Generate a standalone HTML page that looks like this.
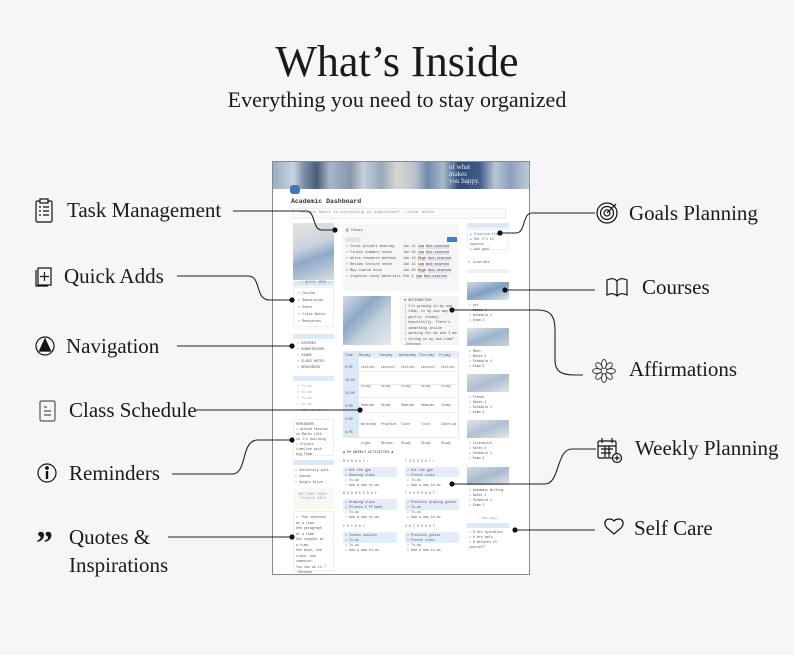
<!DOCTYPE html>
<html><head><meta charset="utf-8"><style>
*{margin:0;padding:0;box-sizing:border-box}
body{width:794px;height:655px;background:#f5f6f8;position:relative;overflow:hidden;font-family:"Liberation Serif",serif;color:#1a1a1a}
.a{position:absolute}
.lbl{position:absolute;font-size:21px;line-height:24px;white-space:nowrap}
.m{font-family:"Liberation Mono",monospace;font-size:4px;color:#555;position:absolute;white-space:nowrap}
.hb{position:absolute;background:#dceaf7}
.bx{position:absolute;border:1px solid #eee;background:#fff}
.row{position:absolute;height:4px;background:#e3eef8}
.tc span{display:inline-block;width:20px;overflow:hidden}
</style></head><body>
<div class="a" style="left:0;width:794px;top:35px;text-align:center;font-size:44px;line-height:54px">What’s Inside</div>
<div class="a" style="left:0;width:794px;top:87px;text-align:center;font-size:22px;line-height:26px">Everything you need to stay organized</div>

<div class="a" style="left:272px;top:161px;width:258px;height:414px;border:1.5px solid #8a8a8a;background:#fff;overflow:hidden">
  <div class="a" style="left:0;top:0;width:258px;height:27px;background:linear-gradient(90deg,#9aaec4 0,#c9d3de 8%,#7d8da3 12%,#4a5e7c 17%,#a9b6c6 22%,#8797ad 30%,#c7cfd8 35%,#98a9bd 42%,#d8d7cf 48%,#b8c3cf 55%,#6f89ae 60%,#aab7c6 66%,#2f4c7a 72%,#3e5a88 80%,#b9c6d6 86%,#8aa0bd 92%,#c6ced8 100%)"></div>
  <div class="a" style="left:176px;top:2px;width:44px;height:22px;color:#e7ecf3;font-size:7px;line-height:7px;font-family:'Liberation Serif',serif">of what<br>makes<br>you happy.</div>
  <div class="a" style="left:17px;top:23px;width:10px;height:9px;background:#3d79b8;border-radius:3px"></div>
  <div class="m" style="left:18px;top:36px;font-size:6.5px;font-weight:bold;color:#333">Academic Dashboard</div>
  <div class="a" style="left:19px;top:46px;width:214px;height:11px;border:1px solid #eee;background:#fafafa"></div>
  <div class="m" style="left:24px;top:49px;color:#7a9cc4">"Thought heart is everything it experience" - Oscar Wilde</div>
  <div class="a" style="left:20px;top:61px;width:41px;height:57px;background:linear-gradient(160deg,#e9e5df 0,#c8d3de 40%,#8fa9c8 60%,#d9dde2 100%)"></div>
  <div class="hb" style="left:20px;top:119px;width:41px;height:5px"></div><div class="m" style="left:28px;top:119px;font-size:3.5px;color:#4a6fa0">• QUICK ADDS •</div>
  <div class="bx" style="left:20px;top:125px;width:41px;height:40px"></div>
  <div class="m" style="left:25px;top:129px;line-height:7px;font-size:3.5px;color:#555">▪ Course<br>▪ Submission<br>▪ Event<br>▪ Class Notes<br>▪ Resources</div>
  <div class="hb" style="left:20px;top:172px;width:41px;height:5px"></div>
  <div class="m" style="left:24px;top:179px;line-height:6px;font-size:3.5px">▪ COURSES<br>▪ SUBMISSIONS<br>▪ EXAMS<br>▪ CLASS NOTES<br>▪ RESOURCES</div>
  <div class="hb" style="left:20px;top:214px;width:41px;height:5px"></div>
  <div class="m" style="left:24px;top:222px;line-height:6px;font-size:3.5px;color:#aaa">☐ To-do<br>☐ To-do<br>☐ To-do<br>☐ To-do<br>▪ Add new to...</div>
  <div class="bx" style="left:20px;top:257px;width:41px;height:37px"></div>
  <div class="m" style="left:23px;top:260px;line-height:5px;font-size:3.3px">REMINDERS<br>• attend session<br>  on Maths 12th<br>  in J's building<br>• Project<br>  timeline with<br>  big Team</div>
  <div class="hb" style="left:20px;top:298px;width:41px;height:5px"></div>
  <div class="m" style="left:22px;top:305px;line-height:6px;font-size:3.3px">▪ University port.<br>▪ Canvas<br>▪ Google Drive</div>
  <div class="a" style="left:20px;top:326px;width:41px;height:21px;background:#fbf8f2"></div>
  <div class="m" style="left:25px;top:331px;font-size:4px;color:#7fa3cf">GETTING YOUR<br>&nbsp;future SELF</div>
  <div class="bx" style="left:20px;top:349px;width:41px;height:60px"></div>
  <div class="m" style="left:23px;top:353px;line-height:5.5px;font-size:3.3px">▪ "One sentence<br>  at a time.<br>  One paragraph<br>  at a time.<br>  One chapter at<br>  a time.<br>  One book, one<br>  class, one<br>  semester.<br>  You can do it."<br>  -Unknown</div>
  <div class="a" style="left:70px;top:62px;width:116px;height:67px;background:#f6f6f6;border-radius:2px"></div>
  <div class="m" style="left:73px;top:65px;font-size:4px">▤ Tasks</div>
  <div class="a" style="left:72px;top:75px;width:16px;height:5px;background:#e5e5e5;border-radius:2px"></div>
  <div class="a" style="left:174px;top:75px;width:10px;height:5px;background:#3d7fd0"></div>
  <div class="m" style="left:73px;top:82px;line-height:6px;font-size:3.5px">▪ Cross project meeting<br>▪ Finish summary notes<br>▪ Write research methods<br>▪ Review lecture notes<br>▪ Buy course book<br>▪ Organize study materials</div>
  <div class="m" style="left:130px;top:82px;line-height:6px;font-size:3.5px">Jan 14 <span style="background:#e1ddd8">Low</span> <span style="background:#e4e0ec">Not started</span><br>Jan 18 <span style="background:#e1ddd8">Low</span> <span style="background:#e4e0ec">Not started</span><br>Jan 19 <span style="background:#f0d8d6">High</span> <span style="background:#e4e0ec">Not started</span><br>Jan 22 <span style="background:#e1ddd8">Low</span> <span style="background:#e4e0ec">Not started</span><br>Jan 30 <span style="background:#f0d8d6">High</span> <span style="background:#e4e0ec">Not started</span><br>Feb 3 <span style="background:#e1ddd8">Low</span> <span style="background:#e4e0ec">Not started</span></div>
  <div class="a" style="left:70px;top:134px;width:48px;height:49px;background:linear-gradient(135deg,#d7dde5 0,#8aa7c7 35%,#c4d0de 60%,#e6e9ed 100%)"></div>
  <div class="a" style="left:127px;top:134px;width:59px;height:49px;background:#f6f5f3"></div>
  <div class="m" style="left:131px;top:137px;line-height:5.5px;font-size:3.5px">▼ AFFIRMATION<br>│ I'm growing in my own<br>│ time, in my own way -<br>│ gentle, steady,<br>│ beautifully. There's<br>│ something inside<br>│ working for me and I am<br>│ strong in my own time"<br>                 -Unknown</div>
  <div class="a" style="left:70px;top:189px;width:116px;height:87px;border:1px solid #e8e8e8;background:#fff"></div>
  <div class="a" style="left:70px;top:189px;width:116px;height:7px;background:#e5eef8"></div>
  <div class="a" style="left:70px;top:189px;width:16px;height:87px;background:#dbe8f6"></div>
  <div class="m tc" style="left:72px;top:191px;font-size:3.2px"><span style="width:14px">Time</span><span>Monday</span><span>Tuesday</span><span>Wednesday</span><span>Thursday</span><span>Friday</span></div>
  <div class="m" style="left:72px;top:199px;line-height:13px;font-size:3.2px">8:00<br>10:00<br>12:00<br>2:00<br>4:00<br>6:00</div>
  <div class="m tc" style="left:88px;top:199px;line-height:13px;font-size:3.2px"><span>Lecture</span><span>Lecture</span><span>Lecture</span><span>Lecture</span><span>Lecture</span><br><span>Study</span><span>Study</span><span>Study</span><span>Study</span><span>Study</span><br><span>Seminar</span><span>Study</span><span>Seminar</span><span>Seminar</span><span>Indep.</span><br><span>Workshop</span><span>Practice</span><span>Tutor</span><span>Tutor</span><span>Catch-up</span><br><span>Light</span><span>Review</span><span>Study</span><span>Study</span><span>Study</span></div>
  <div class="a" style="left:86px;top:209px;width:100px;border-top:1px solid #eee"></div>
  <div class="a" style="left:86px;top:222px;width:100px;border-top:1px solid #eee"></div>
  <div class="a" style="left:86px;top:235px;width:100px;border-top:1px solid #eee"></div>
  <div class="a" style="left:86px;top:250px;width:100px;border-top:1px solid #eee"></div>
  <div class="m" style="left:70px;top:289px;font-size:3.5px;color:#333">▲ MY WEEKLY ACTIVITIES ▲</div>
  <div class="m" style="left:70px;top:297px;font-size:3.3px;color:#4a6fa0">M O N D A Y ▪</div>
  <div class="m" style="left:132px;top:297px;font-size:3.3px;color:#4a6fa0">T U E S D A Y ▪</div>
  <div class="row" style="left:70px;top:305px;width:54px;height:10px"></div>
  <div class="row" style="left:132px;top:305px;width:54px;height:10px"></div>
  <div class="m" style="left:72px;top:306px;line-height:5px;font-size:3.3px">☐ Hit the gym<br>☐ Dancing class<br>☐ To-do<br>▪ Add a new to-do</div>
  <div class="m" style="left:134px;top:306px;line-height:5px;font-size:3.3px">☐ Hit the gym<br>☐ French class<br>☐ To-do<br>▪ Add a new to-do</div>
  <div class="m" style="left:70px;top:329px;font-size:3.3px;color:#4a6fa0">W E D N E S D A Y</div>
  <div class="m" style="left:132px;top:329px;font-size:3.3px;color:#4a6fa0">T H U R S D A Y</div>
  <div class="row" style="left:70px;top:337px;width:54px;height:11px"></div>
  <div class="row" style="left:132px;top:337px;width:54px;height:11px"></div>
  <div class="m" style="left:72px;top:338px;line-height:5px;font-size:3.3px">☐ Drawing class<br>☐ Pilates & FF meet<br>☐ To-do<br>▪ Add a new to-do</div>
  <div class="m" style="left:134px;top:338px;line-height:5px;font-size:3.3px">☐ Practice playing guitar<br>☐ To-do<br>☐ To-do<br>▪ Add a new to-do</div>
  <div class="m" style="left:70px;top:362px;font-size:3.3px;color:#4a6fa0">F R I D A Y</div>
  <div class="m" style="left:132px;top:362px;font-size:3.3px;color:#4a6fa0">S A T U R D A Y</div>
  <div class="row" style="left:70px;top:370px;width:54px;height:11px"></div>
  <div class="row" style="left:132px;top:370px;width:54px;height:11px"></div>
  <div class="m" style="left:72px;top:371px;line-height:5px;font-size:3.3px">☐ Tennis session<br>☐ To-do<br>☐ To-do<br>▪ Add a new to-do</div>
  <div class="m" style="left:134px;top:371px;line-height:5px;font-size:3.3px">☐ Practice guitar<br>☐ French class<br>☐ To-do<br>▪ Add a new to-do</div>
  <div class="hb" style="left:194px;top:61px;width:42px;height:5px"></div>
  <div class="bx" style="left:194px;top:67px;width:42px;height:21px"></div>
  <div class="m" style="left:197px;top:70px;line-height:5px;font-size:3.3px;color:#4a6fa0">✚ Finalize fiat<br>✚ Get 3.5 in<br>  Spanish<br> ▪ Add goal</div>
  <div class="m" style="left:195px;top:99px;font-size:4px">▪ Courses</div>
  <div class="a" style="left:194px;top:107px;width:42px;height:4px;background:#f0f0f0"></div>
  <div class="a" style="left:194px;top:120px;width:42px;height:18px;background:linear-gradient(160deg,#cfd9e4,#7f9fc3,#dfe4ea)"></div>
  <div class="m" style="left:196px;top:141px;line-height:5px;font-size:3.2px">▪ Art<br>▪ Notes 4<br>▪ Schedule 1<br>▪ Exam 2</div>
  <div class="a" style="left:194px;top:166px;width:42px;height:18px;background:linear-gradient(160deg,#e2e5e9,#9db4cf,#c9d1db)"></div>
  <div class="m" style="left:196px;top:187px;line-height:5px;font-size:3.2px">▪ Math<br>▪ Notes 4<br>▪ Schedule 3<br>▪ Exam 2</div>
  <div class="a" style="left:194px;top:212px;width:42px;height:18px;background:linear-gradient(160deg,#d8dde3,#adbdd0,#e1e4e8)"></div>
  <div class="m" style="left:196px;top:233px;line-height:5px;font-size:3.2px">▪ French<br>▪ Notes 4<br>▪ Schedule 1<br>▪ Exam 2</div>
  <div class="a" style="left:194px;top:258px;width:42px;height:18px;background:linear-gradient(160deg,#dfe3e8,#b1c0d1,#e5e7ea)"></div>
  <div class="m" style="left:196px;top:279px;line-height:5px;font-size:3.2px">▪ Literature<br>▪ Notes 4<br>▪ Schedule 1<br>▪ Exam 2</div>
  <div class="a" style="left:194px;top:305px;width:42px;height:18px;background:linear-gradient(160deg,#d4dae1,#a9bace,#e3e6ea)"></div>
  <div class="m" style="left:196px;top:326px;line-height:5px;font-size:3.2px">▪ Academic Writing<br>▪ Notes 4<br>▪ Schedule 1<br>▪ Exam 2</div>
  <div class="m" style="left:205px;top:354px;font-size:3.2px;color:#aaa">+ New page</div>
  <div class="hb" style="left:194px;top:361px;width:42px;height:5px"></div>
  <div class="m" style="left:196px;top:368px;line-height:5px;font-size:3.3px">• 8 Hrs hydration<br>• 8 Hrs walk<br>• 8 minutes in<br>  yourself</div>
</div>

<svg class="a" style="left:0;top:0" width="794" height="655" viewBox="0 0 794 655" fill="none" stroke="#222" stroke-width="1.1">
<path d="M233 211 H306 C316 211 312 230 322 230 H335"/>
<path d="M177 276 H248 C262 276 254 300 270 300 H292"/>
<path d="M177 346 H292"/>
<path d="M196 410 H360"/>
<path d="M172 474 H232 C248 474 240 440 258 440 H292"/>
<path d="M168 537 H292"/>
<path d="M595 213 H532 C522 213 526 233 516 233 H500"/>
<path d="M595 290 H505"/>
<path d="M452 310 H538 C552 310 555 318 555 330 V360 C555 372 562 375 575 375 H583"/>
<path d="M596 449 H572 C556 449 560 484 545 484 H452"/>
<path d="M595 530 H515"/>
<g fill="#111" stroke="none">
<circle cx="335" cy="230" r="2.6"/><circle cx="292" cy="300" r="2.6"/><circle cx="292" cy="346" r="2.6"/>
<circle cx="360" cy="410" r="2.6"/><circle cx="292" cy="440" r="2.6"/><circle cx="292" cy="537" r="2.6"/>
<circle cx="500" cy="233" r="2.6"/><circle cx="505" cy="290" r="2.6"/><circle cx="452" cy="310" r="2.6"/>
<circle cx="452" cy="484" r="2.6"/><circle cx="515" cy="530" r="2.6"/>
</g>
<g stroke="#111" stroke-width="1.2">
<rect x="36" y="201" width="16" height="21" rx="1.5"/><rect x="40" y="199" width="8" height="4" fill="#f5f6f8"/>
<path d="M39 207h2M43 207h6M39 211h2M43 211h6M39 215h2M43 215h6"/>
<rect x="38" y="268" width="13" height="17"/><path d="M36 270V286H48"/><path d="M44.5 272v9M40 276.5h9"/>
<circle cx="45" cy="346" r="9"/><path d="M45 339L39.5 351H50.5Z" fill="#111"/>
<rect x="40" y="401" width="15" height="20" rx="1.5" stroke="#555"/><path d="M44 407h3M44 411h7M44 415h7" stroke="#555"/>
<circle cx="47" cy="473" r="9"/><circle cx="47" cy="468" r="1.3" fill="#111"/><path d="M47 471v8" stroke-width="2.4"/>
<path d="M614 521c-5-5-13 0-7 7l7 6 7-6c6-7-2-12-7-7z"/>
<path d="M607 280v15c4-2 7-2 10 1 3-3 6-3 10-1v-15c-4-2-7-2-10 1-3-3-6-3-10-1zM617 281v15"/>
<circle cx="607" cy="213" r="10"/><circle cx="607" cy="213" r="6.5"/><circle cx="607" cy="213" r="3"/><path d="M607 213l9-9"/>
<rect x="598" y="441" width="18" height="17" rx="1.5"/><path d="M598 446h18M602 438v5M612 438v5M601 449h12M601 453h10M605 446v11M609 446v11"/><circle cx="617" cy="458" r="4.5" fill="#f5f6f8"/><path d="M617 455.5v5M614.5 458h5"/>
</g>
<g stroke="#333" stroke-width="0.9" fill="none">
<ellipse cx="604" cy="364" rx="2.5" ry="4.5"/><ellipse cx="604" cy="378" rx="2.5" ry="4.5"/>
<ellipse cx="597" cy="371" rx="4.5" ry="2.5"/><ellipse cx="611" cy="371" rx="4.5" ry="2.5"/>
<ellipse cx="599" cy="366" rx="2.5" ry="4" transform="rotate(-45 599 366)"/><ellipse cx="609" cy="376" rx="2.5" ry="4" transform="rotate(-45 609 376)"/>
<ellipse cx="609" cy="366" rx="2.5" ry="4" transform="rotate(45 609 366)"/><ellipse cx="599" cy="376" rx="2.5" ry="4" transform="rotate(45 599 376)"/>
</g>
</svg>
<div class="lbl" style="left:36px;top:527px;font-size:34px;font-weight:bold;line-height:34px">”</div>

<div class="lbl" style="left:67px;top:198px">Task Management</div>
<div class="lbl" style="left:64px;top:264px">Quick Adds</div>
<div class="lbl" style="left:66px;top:334px">Navigation</div>
<div class="lbl" style="left:69px;top:398px">Class Schedule</div>
<div class="lbl" style="left:69px;top:461px">Reminders</div>
<div class="lbl" style="left:69px;top:525px">Quotes &amp;</div>
<div class="lbl" style="left:69px;top:553px">Inspirations</div>
<div class="lbl" style="left:629px;top:201px">Goals Planning</div>
<div class="lbl" style="left:642px;top:275px">Courses</div>
<div class="lbl" style="left:629px;top:357px">Affirmations</div>
<div class="lbl" style="left:635px;top:436px">Weekly Planning</div>
<div class="lbl" style="left:634px;top:516px">Self Care</div>
</body></html>
